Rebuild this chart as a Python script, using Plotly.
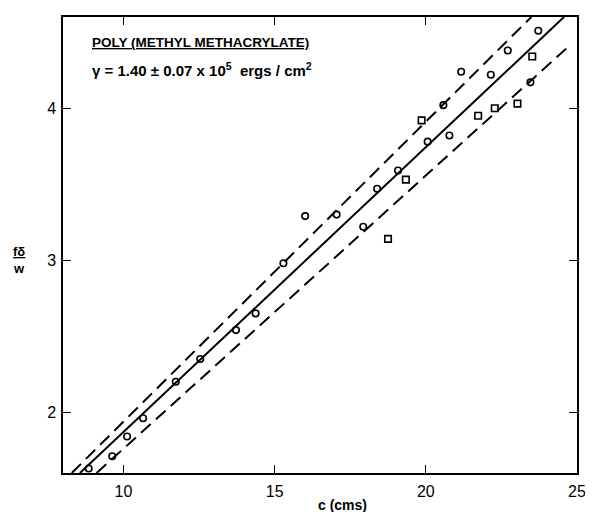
import plotly.graph_objects as go

# Data
circle_c = [8.85, 9.63, 10.12, 10.65, 11.73, 12.54, 13.72, 14.37, 15.29, 16.01, 17.05,
            17.93, 18.39, 19.08, 20.06, 20.78, 20.58, 21.17, 22.15, 22.71, 23.46, 23.72]
circle_y = [1.63, 1.71, 1.84, 1.96, 2.20, 2.35, 2.54, 2.65, 2.98, 3.29, 3.30,
            3.22, 3.47, 3.59, 3.78, 3.82, 4.02, 4.24, 4.22, 4.38, 4.17, 4.51]
square_c = [18.75, 19.34, 19.86, 21.73, 22.28, 23.03, 23.52]
square_y = [3.14, 3.53, 3.92, 3.95, 4.00, 4.03, 4.34]

fit_c = [8.56, 24.57]
fit_y = [1.60, 4.60]
upper_c = [8.29, 23.49]
upper_y = [1.60, 4.60]
lower_c = [9.11, 24.80]
lower_y = [1.60, 4.42]

x_ticks = [10, 15, 20, 25]
y_ticks = [2, 3, 4]

FONT = "Liberation Sans"

fig = go.Figure()
fig.add_trace(go.Scatter(x=upper_c, y=upper_y, mode="lines",
                         line=dict(color="black", width=2, dash="13px,7px"), showlegend=False))
fig.add_trace(go.Scatter(x=lower_c, y=lower_y, mode="lines",
                         line=dict(color="black", width=2, dash="13px,7px"), showlegend=False))
fig.add_trace(go.Scatter(x=fit_c, y=fit_y, mode="lines",
                         line=dict(color="black", width=2), showlegend=False))
fig.add_trace(go.Scatter(x=circle_c, y=circle_y, mode="markers",
                         marker=dict(symbol="circle-open", size=6.5, color="black",
                                     line=dict(width=1.6, color="black")), showlegend=False))
fig.add_trace(go.Scatter(x=square_c, y=square_y, mode="markers",
                         marker=dict(symbol="square-open", size=6.5, color="black",
                                     line=dict(width=1.6, color="black")), showlegend=False))

axis_common = dict(showgrid=False, zeroline=False, showline=True, linecolor="black",
                   linewidth=1.5, mirror="ticks", ticks="inside", ticklen=8,
                   tickwidth=1.3, tickcolor="black",
                   tickfont=dict(family=FONT, size=16, color="black"))

fig.update_xaxes(range=[8, 25], tickvals=x_ticks, ticktext=[str(v) for v in x_ticks],
                 ticklabelstandoff=3, **axis_common)
fig.update_yaxes(range=[1.6, 4.6], tickvals=y_ticks, ticktext=[str(v) for v in y_ticks],
                 ticklabelstandoff=2, **axis_common)

fig.add_annotation(x=17.25, y=-0.07, xref="x", yref="paper", xanchor="center", yanchor="middle",
                   text="<b>c (cms)</b>", showarrow=False,
                   font=dict(family=FONT, size=14, color="black"))
fig.add_annotation(x=0.052, y=0.966, xref="paper", yref="paper", xanchor="left", yanchor="top",
                   text="<b><u>POLY (METHYL METHACRYLATE)</u></b>", showarrow=False,
                   font=dict(family=FONT, size=13.5, color="black"))
fig.add_annotation(x=0.052, y=0.884, xref="paper", yref="paper", xanchor="left", yanchor="middle",
                   text="<b>γ = 1.40 ± 0.07 x 10<sup>5</sup>  ergs / cm<sup>2</sup></b>",
                   showarrow=False, font=dict(family=FONT, size=15, color="black"))
fig.add_annotation(x=-0.085, y=0.467, xref="paper", yref="paper", xanchor="center", yanchor="middle",
                   text="<b><u>fδ</u></b><br><b>w</b>", showarrow=False,
                   font=dict(family=FONT, size=13, color="black"))

# page body adds an 8px margin, so the figure is sized to fit the window
fig.update_layout(width=585, height=504, plot_bgcolor="white", paper_bgcolor="white",
                  margin=dict(l=55, r=13, t=7, b=39))

fig.write_html("out.html")
